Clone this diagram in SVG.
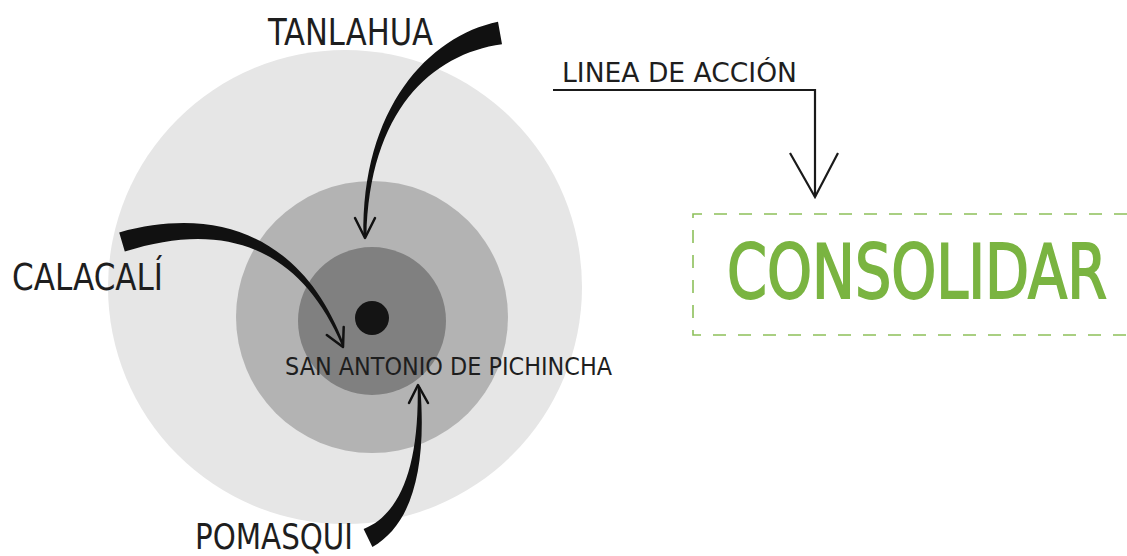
<svg xmlns="http://www.w3.org/2000/svg" width="1127" height="556" viewBox="0 0 1127 556">
  <style>
    .lbl { font-family: "DejaVu Sans Condensed", "DejaVu Sans", "Liberation Sans", sans-serif; font-stretch: condensed; fill: #1e1e1e; }
    .big { font-size: 37px; }
    .mid { font-size: 26px; }
    .head { fill: none; stroke: #111; stroke-width: 2.5; stroke-linecap: round; stroke-linejoin: round; }
    .taper { fill: #111; }
    .line { fill: none; stroke: #1a1a1a; stroke-width: 2.2; }
  </style>
  <rect width="1127" height="556" fill="#ffffff"/>

  <g id="node-center">
    <circle cx="345" cy="287" r="237" fill="#e6e6e6"/>
    <circle cx="372" cy="317" r="136" fill="#b3b3b3"/>
    <circle cx="372" cy="321" r="74" fill="#808080"/>
    <circle cx="372" cy="318" r="17" fill="#141414"/>
    <text class="lbl" x="285" y="375" font-size="25" textLength="327" lengthAdjust="spacingAndGlyphs">SAN ANTONIO DE PICHINCHA</text>
  </g>

  <g id="node-tanlahua">
    <text class="lbl big" x="268" y="45" textLength="165" lengthAdjust="spacingAndGlyphs">TANLAHUA</text>
  </g>
  <g id="node-calacali">
    <text class="lbl big" x="12" y="290" textLength="151" lengthAdjust="spacingAndGlyphs">CALACALÍ</text>
  </g>
  <g id="node-pomasqui">
    <text class="lbl" x="195" y="549" font-size="35" textLength="158" lengthAdjust="spacingAndGlyphs">POMASQUI</text>
  </g>
  <g id="node-linea">
    <text class="lbl mid" x="562" y="82" textLength="235" lengthAdjust="spacingAndGlyphs">LINEA DE ACCIÓN</text>
  </g>
  <g id="node-consolidar">
    <path d="M1127,214 H693 V335 H1127" fill="none" stroke="#8dc05a" stroke-width="1.6" stroke-dasharray="13 12"/>
    <text transform="translate(727,298) scale(1,1.3)" x="0" y="0" font-family="DejaVu Sans Condensed, DejaVu Sans, sans-serif" font-stretch="condensed" font-size="58" fill="#7ab441" stroke="#7ab441" stroke-width="1.4" textLength="380" lengthAdjust="spacingAndGlyphs">CONSOLIDAR</text>
  </g>

  <g id="connectors">
    <!-- Tanlahua -->
    <path class="taper" d="M498,21.7 C428.5,36.1 361.2,108.7 363.5,237 L366.5,237 C368.8,111.3 431.5,53.9 502,44.3 Z"/>
    <polyline class="head" points="355,218 365,238 375,218"/>
    <!-- Calacali -->
    <path class="taper" d="M119.2,232.4 C230.4,202 307.7,247.8 344.1,344.6 L341.9,345.4 C302.3,252.2 229.6,218 124.8,251.6 Z"/>
    <polyline class="head" points="326.8,335 343,347 343.7,327"/>
    <!-- Pomasqui -->
    <path class="taper" d="M372.4,547 C411.2,525 427,470.4 420.3,387 L417.7,387 C419,469.6 398.8,515 363.6,529 Z"/>
    <polyline class="head" points="409,403 418,385 428,403"/>
    <!-- Linea de accion -->
    <polyline class="line" points="553,90 815,90 815,197"/>
    <polyline class="line" points="790,153 815,197 838,153"/>
  </g>
</svg>
